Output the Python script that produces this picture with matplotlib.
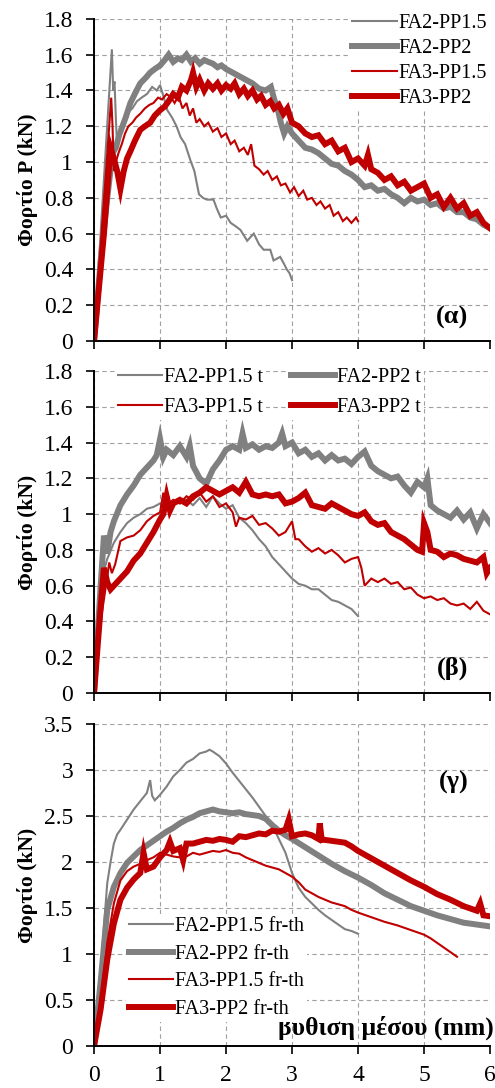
import matplotlib
matplotlib.use("Agg")
import matplotlib.pyplot as plt

plt.rcParams['font.family'] = ['Liberation Serif', 'DejaVu Serif']

GRAY = '#808080'
RED = '#c00000'

# ---- (α) ----
a_fa2_pp15_x = [0, 0.27, 0.29, 0.31, 0.33, 0.35, 0.38, 0.42, 0.47, 0.52, 0.58, 0.65, 0.72, 0.8, 0.88, 0.95,
                1.0, 1.05, 1.11, 1.18, 1.25, 1.31, 1.38, 1.46, 1.52, 1.59, 1.65, 1.71, 1.81, 1.86, 1.92, 2.0,
                2.07, 2.15, 2.22, 2.32, 2.42, 2.5, 2.57, 2.67, 2.72, 2.82, 2.88, 2.92, 2.96, 3.0]
a_fa2_pp15_y = [0, 1.63, 1.40, 1.45, 1.25, 1.08, 1.12, 1.2, 1.24, 1.28, 1.3, 1.34, 1.36, 1.38, 1.42, 1.40,
                1.43, 1.37, 1.29, 1.25, 1.20, 1.14, 1.10, 1.01, 0.95, 0.82, 0.80, 0.79, 0.79, 0.74, 0.69, 0.70,
                0.66, 0.64, 0.62, 0.56, 0.60, 0.54, 0.51, 0.51, 0.45, 0.47, 0.43, 0.40, 0.38, 0.34]

a_fa2_pp2_x = [0, 0.1, 0.2, 0.28, 0.33, 0.38, 0.43, 0.48, 0.55, 0.63, 0.7, 0.78, 0.85, 0.92, 1.0, 1.07, 1.13,
               1.2, 1.27, 1.33, 1.4, 1.47, 1.53, 1.6, 1.67, 1.73, 1.8, 1.87, 1.93, 2.0, 2.1, 2.2, 2.3, 2.4,
               2.5, 2.6, 2.68, 2.73, 2.78, 2.83, 2.88, 2.93, 3.0, 3.1, 3.2, 3.3, 3.4, 3.5, 3.6, 3.7, 3.8,
               3.9, 4.0, 4.1, 4.2, 4.3, 4.4, 4.5, 4.6, 4.7, 4.8, 4.9, 5.0, 5.1, 5.2, 5.3, 5.4, 5.5, 5.6,
               5.7, 5.8, 5.9, 6.0]
a_fa2_pp2_y = [0, 0.45, 0.8, 1.05, 1.08, 1.15, 1.2, 1.25, 1.33, 1.39, 1.44, 1.47, 1.5, 1.52, 1.54, 1.57, 1.6,
               1.56, 1.58, 1.57, 1.6, 1.56, 1.58, 1.55, 1.57, 1.56, 1.55, 1.53, 1.54, 1.52, 1.50, 1.48, 1.46,
               1.44, 1.41, 1.40, 1.42, 1.35, 1.30, 1.22, 1.16, 1.20, 1.16, 1.12, 1.08, 1.07, 1.05, 1.02, 0.99,
               0.98, 0.95, 0.93, 0.90, 0.86, 0.87, 0.84, 0.85, 0.82, 0.80, 0.77, 0.80, 0.78, 0.79, 0.76, 0.77,
               0.74, 0.75, 0.72, 0.72, 0.69, 0.68, 0.65, 0.63]

a_fa3_pp15_x = [0, 0.26, 0.28, 0.3, 0.33, 0.37, 0.42, 0.47, 0.52, 0.58, 0.64, 0.7, 0.77, 0.84, 0.9, 0.97, 1.03,
                1.1, 1.17, 1.22, 1.28, 1.34, 1.4, 1.45, 1.5, 1.55, 1.6, 1.67, 1.73, 1.8, 1.87, 1.93, 2.0, 2.07,
                2.13, 2.2, 2.27, 2.33, 2.38, 2.43, 2.5, 2.57, 2.63, 2.7, 2.77, 2.83, 2.9, 2.97, 3.03, 3.1,
                3.17, 3.23, 3.3, 3.37, 3.43, 3.5, 3.57, 3.63, 3.7, 3.77, 3.83, 3.9, 3.97, 4.0]
a_fa3_pp15_y = [0, 1.36, 1.2, 0.95, 1.0, 1.05, 1.1, 1.16, 1.2, 1.22, 1.25, 1.27, 1.3, 1.32, 1.33, 1.36, 1.35,
                1.38, 1.36, 1.33, 1.37, 1.30, 1.33, 1.26, 1.30, 1.22, 1.24, 1.20, 1.22, 1.17, 1.19, 1.14, 1.16,
                1.10, 1.12, 1.06, 1.08, 1.04, 1.10, 0.98, 0.96, 0.93, 0.95, 0.90, 0.92, 0.87, 0.88, 0.83, 0.86,
                0.81, 0.84, 0.79, 0.80, 0.76, 0.78, 0.74, 0.76, 0.70, 0.72, 0.67, 0.69, 0.66, 0.69, 0.67]

a_fa3_pp2_x = [0, 0.15, 0.25, 0.3, 0.35, 0.4, 0.45, 0.5, 0.55, 0.62, 0.7, 0.77, 0.85, 0.92, 1.0, 1.07, 1.13,
               1.2, 1.27, 1.33, 1.4, 1.47, 1.5, 1.55, 1.6, 1.67, 1.73, 1.8, 1.87, 1.93, 2.0, 2.07, 2.13, 2.2,
               2.27, 2.33, 2.4, 2.47, 2.53, 2.6, 2.67, 2.73, 2.8, 2.87, 2.93, 3.0, 3.1, 3.2, 3.3, 3.4, 3.5,
               3.6, 3.7, 3.8, 3.9, 4.0, 4.1, 4.15, 4.2, 4.3, 4.4, 4.5, 4.6, 4.7, 4.8, 4.9, 5.0, 5.1, 5.2,
               5.3, 5.4, 5.5, 5.6, 5.7, 5.8, 5.9, 6.0]
a_fa3_pp2_y = [0, 0.6, 1.08, 1.02, 0.95, 0.85, 0.95, 1.02, 1.06, 1.12, 1.18, 1.2, 1.22, 1.26, 1.29, 1.31, 1.34,
               1.38, 1.36, 1.42, 1.40, 1.46, 1.50, 1.42, 1.46, 1.40, 1.44, 1.41, 1.44, 1.40, 1.43, 1.41, 1.44,
               1.38, 1.41, 1.37, 1.40, 1.35, 1.37, 1.32, 1.34, 1.30, 1.32, 1.27, 1.30, 1.22, 1.20, 1.16, 1.14,
               1.15, 1.10, 1.12, 1.06, 1.08, 1.0, 1.02, 0.98, 1.04, 0.96, 0.94, 0.90, 0.92, 0.87, 0.89, 0.84,
               0.86, 0.88, 0.80, 0.82, 0.75, 0.80, 0.74, 0.77, 0.70, 0.72, 0.66, 0.63]

# ---- (β) ----
b_fa2_pp15_x = [0, 0.1, 0.2, 0.3, 0.4, 0.5, 0.6, 0.7, 0.8, 0.9, 1.0, 1.1, 1.2, 1.3, 1.4, 1.5, 1.6, 1.7, 1.8,
                1.9, 2.0, 2.1, 2.2, 2.3, 2.4, 2.5, 2.6, 2.7, 2.8, 2.9, 3.0, 3.1, 3.2, 3.3, 3.4, 3.5, 3.6, 3.7,
                3.8, 3.9, 4.0]
b_fa2_pp15_y = [0, 0.62, 0.75, 0.84, 0.9, 0.95, 0.98, 1.0, 1.03, 1.04, 1.06, 1.05, 1.07, 1.06, 1.08, 1.05,
                1.09, 1.04, 1.1, 1.06, 1.03, 1.05, 0.98, 0.95, 0.91, 0.86, 0.82, 0.76, 0.72, 0.68, 0.64, 0.61,
                0.60, 0.58, 0.58, 0.55, 0.52, 0.51, 0.49, 0.47, 0.43]

b_fa2_pp2_x = [0, 0.1, 0.15, 0.2, 0.25, 0.3, 0.4, 0.5, 0.6, 0.7, 0.8, 0.9, 0.95, 1.0, 1.05, 1.1, 1.2, 1.3, 1.4,
               1.45, 1.5, 1.6, 1.7, 1.8, 1.9, 2.0, 2.1, 2.2, 2.25, 2.3, 2.4, 2.5, 2.6, 2.7, 2.8, 2.85, 2.9,
               3.0, 3.1, 3.2, 3.3, 3.4, 3.5, 3.6, 3.7, 3.8, 3.9, 4.0, 4.1, 4.2, 4.3, 4.4, 4.5, 4.6, 4.7, 4.8,
               4.9, 5.0, 5.05, 5.1, 5.2, 5.3, 5.4, 5.5, 5.6, 5.7, 5.8, 5.9, 6.0]
b_fa2_pp2_y = [0, 0.6, 0.88, 0.78, 0.9, 0.96, 1.05, 1.11, 1.16, 1.22, 1.26, 1.3, 1.33, 1.42, 1.32, 1.36, 1.33,
               1.38, 1.32, 1.38, 1.27, 1.2, 1.17, 1.25, 1.3, 1.36, 1.38, 1.36, 1.45, 1.37, 1.39, 1.36, 1.38,
               1.37, 1.40, 1.45, 1.38, 1.40, 1.34, 1.36, 1.32, 1.34, 1.30, 1.33, 1.30, 1.31, 1.28, 1.32, 1.35,
               1.27, 1.24, 1.22, 1.2, 1.21, 1.16, 1.12, 1.18, 1.15, 1.2, 1.05, 1.02, 1.0, 0.98, 1.02, 0.97,
               1.01, 0.92, 1.0, 0.95]

b_fa3_pp15_x = [0, 0.12, 0.2, 0.23, 0.27, 0.32, 0.4, 0.5, 0.6, 0.7, 0.8, 0.9, 1.0, 1.05, 1.1, 1.2, 1.3, 1.4,
                1.5, 1.6, 1.7, 1.8, 1.9, 2.0, 2.1, 2.15, 2.2, 2.3, 2.4, 2.5, 2.6, 2.7, 2.8, 2.9, 3.0, 3.05,
                3.1, 3.2, 3.3, 3.4, 3.5, 3.6, 3.7, 3.8, 3.9, 4.0, 4.05, 4.1, 4.2, 4.3, 4.4, 4.5, 4.6, 4.7,
                4.8, 4.9, 5.0, 5.1, 5.2, 5.3, 5.4, 5.5, 5.6, 5.7, 5.8, 5.9, 6.0]
b_fa3_pp15_y = [0, 0.45, 0.65, 0.73, 0.67, 0.72, 0.85, 0.87, 0.88, 0.91, 0.96, 0.99, 1.01, 1.12, 1.05, 1.08,
                1.06, 1.1, 1.08, 1.12, 1.07, 1.1, 1.04, 1.06, 1.01, 0.93, 0.98, 0.97, 0.99, 0.94, 0.95, 0.92,
                0.88, 0.9, 0.96, 0.86, 0.86, 0.82, 0.79, 0.81, 0.78, 0.80, 0.77, 0.73, 0.75, 0.76, 0.70, 0.60,
                0.64, 0.62, 0.64, 0.61, 0.62, 0.58, 0.59, 0.55, 0.53, 0.54, 0.52, 0.53, 0.50, 0.49, 0.50, 0.47,
                0.51, 0.46, 0.44]

b_fa3_pp2_x = [0, 0.1, 0.15, 0.2, 0.25, 0.3, 0.4, 0.5, 0.6, 0.7, 0.8, 0.9, 1.0, 1.05, 1.1, 1.15, 1.2, 1.3,
               1.4, 1.5, 1.6, 1.7, 1.8, 1.9, 2.0, 2.1, 2.2, 2.3, 2.4, 2.5, 2.6, 2.7, 2.8, 2.9, 3.0, 3.1, 3.2,
               3.3, 3.4, 3.5, 3.6, 3.7, 3.8, 3.9, 4.0, 4.1, 4.2, 4.3, 4.4, 4.5, 4.6, 4.7, 4.8, 4.9, 4.97,
               5.0, 5.05, 5.1, 5.2, 5.3, 5.4, 5.5, 5.6, 5.7, 5.8, 5.9, 5.95, 6.0]
b_fa3_pp2_y = [0, 0.48, 0.7, 0.62, 0.58, 0.6, 0.64, 0.68, 0.74, 0.78, 0.84, 0.9, 0.97, 1.0, 1.1, 1.02, 1.06,
               1.08, 1.06, 1.1, 1.12, 1.15, 1.13, 1.11, 1.13, 1.15, 1.12, 1.18, 1.11, 1.1, 1.11, 1.10, 1.11,
               1.06, 1.07, 1.09, 1.12, 1.05, 1.04, 1.03, 1.06, 1.04, 1.02, 1.0, 0.99, 1.01, 0.96, 0.94, 0.95,
               0.90, 0.88, 0.86, 0.83, 0.80, 0.79, 0.95, 0.90, 0.80, 0.79, 0.76, 0.78, 0.77, 0.75, 0.74, 0.73,
               0.76, 0.67, 0.70]

# ---- (γ) ----
c_fa2_pp15_x = [0, 0.1, 0.15, 0.2, 0.25, 0.3, 0.35, 0.4, 0.5, 0.6, 0.7, 0.8, 0.85, 0.88, 0.92, 1.0, 1.1, 1.2,
                1.3, 1.4, 1.5, 1.6, 1.7, 1.75, 1.8, 1.9, 2.0, 2.1, 2.2, 2.3, 2.4, 2.5, 2.6, 2.7, 2.8, 2.9,
                3.0, 3.1, 3.2, 3.3, 3.4, 3.5, 3.6, 3.7, 3.8, 3.9, 4.0]
c_fa2_pp15_y = [0, 0.75, 1.3, 1.77, 2.0, 2.2, 2.3, 2.35, 2.46, 2.57, 2.66, 2.75, 2.89, 2.72, 2.67, 2.73, 2.82,
                2.93, 3.0, 3.08, 3.12, 3.18, 3.2, 3.22, 3.2, 3.15, 3.07, 2.97, 2.88, 2.79, 2.70, 2.60, 2.50,
                2.40, 2.25, 2.10, 1.88, 1.72, 1.62, 1.55, 1.48, 1.42, 1.37, 1.32, 1.27, 1.25, 1.22]

c_fa2_pp2_x = [0, 0.1, 0.2, 0.3, 0.4, 0.5, 0.6, 0.7, 0.8, 0.9, 1.0, 1.1, 1.2, 1.3, 1.4, 1.5, 1.6, 1.7, 1.8,
               1.9, 2.0, 2.1, 2.2, 2.3, 2.4, 2.5, 2.6, 2.7, 2.8, 2.9, 3.0, 3.2, 3.4, 3.6, 3.8, 4.0, 4.2, 4.4,
               4.6, 4.8, 5.0, 5.2, 5.4, 5.6, 5.8, 6.0]
c_fa2_pp2_y = [0, 0.7, 1.48, 1.73, 1.88, 1.99, 2.06, 2.13, 2.18, 2.23, 2.28, 2.33, 2.37, 2.42, 2.46, 2.49,
               2.53, 2.55, 2.57, 2.55, 2.54, 2.53, 2.54, 2.52, 2.51, 2.50, 2.47, 2.40, 2.34, 2.29, 2.25, 2.16,
               2.07, 1.98, 1.90, 1.83, 1.75, 1.66, 1.59, 1.52, 1.47, 1.42, 1.38, 1.34, 1.32, 1.30]

c_fa3_pp15_x = [0, 0.1, 0.2, 0.3, 0.4, 0.5, 0.6, 0.7, 0.8, 0.9, 1.0, 1.1, 1.2, 1.3, 1.4, 1.5, 1.6, 1.7, 1.8,
                1.9, 2.0, 2.1, 2.2, 2.3, 2.4, 2.5, 2.6, 2.7, 2.8, 2.9, 3.0, 3.1, 3.2, 3.3, 3.4, 3.5, 3.6, 3.7,
                3.8, 3.9, 4.0, 4.2, 4.4, 4.6, 4.8, 5.0, 5.1, 5.2, 5.3, 5.4, 5.5]
c_fa3_pp15_y = [0, 0.5, 1.12, 1.55, 1.8, 1.9, 1.95, 1.98, 2.02, 2.05, 2.1, 2.08, 2.06, 2.05, 2.06, 2.1, 2.08,
                2.1, 2.12, 2.11, 2.13, 2.1, 2.09, 2.05, 2.02, 1.99, 1.96, 1.94, 1.92, 1.88, 1.84, 1.78, 1.7,
                1.66, 1.62, 1.59, 1.56, 1.54, 1.52, 1.48, 1.45, 1.40, 1.35, 1.31, 1.26, 1.21, 1.17, 1.12,
                1.07, 1.02, 0.97]

c_fa3_pp2_x = [0, 0.1, 0.2, 0.3, 0.4, 0.5, 0.6, 0.7, 0.75, 0.8, 0.9, 1.0, 1.1, 1.15, 1.2, 1.3, 1.35, 1.4, 1.5,
               1.6, 1.7, 1.8, 1.9, 2.0, 2.1, 2.2, 2.3, 2.4, 2.5, 2.6, 2.7, 2.8, 2.9, 2.95, 3.0, 3.1, 3.2, 3.3,
               3.4, 3.42, 3.45, 3.5, 3.6, 3.7, 3.8, 3.9, 4.0, 4.2, 4.4, 4.6, 4.8, 5.0, 5.2, 5.4, 5.6, 5.8,
               5.85, 5.9, 6.0]
c_fa3_pp2_y = [0, 0.4, 0.94, 1.33, 1.59, 1.72, 1.81, 1.88, 2.1, 1.92, 1.95, 2.05, 2.13, 2.22, 2.12, 2.15, 2.02,
               2.2, 2.2, 2.22, 2.24, 2.23, 2.25, 2.24, 2.22, 2.28, 2.27, 2.29, 2.31, 2.30, 2.34, 2.33, 2.35,
               2.46, 2.28, 2.30, 2.31, 2.29, 2.25, 2.42, 2.24, 2.24, 2.23, 2.22, 2.21, 2.17, 2.12, 2.04, 1.96,
               1.88, 1.80, 1.73, 1.65, 1.59, 1.52, 1.47, 1.55, 1.42, 1.41]

x_ticks = [0, 1, 2, 3, 4, 5, 6]
y_ticks_ab = [0, 0.2, 0.4, 0.6, 0.8, 1, 1.2, 1.4, 1.6, 1.8]
y_ticks_c = [0, 0.5, 1, 1.5, 2, 2.5, 3, 3.5]

fig = plt.figure(figsize=(4.95, 10.88), dpi=100)
left, width, height = 0.19, 0.80, 0.296
axes = [fig.add_axes([left, b, width, height]) for b in (0.6866, 0.363, 0.0386)]

LEG = dict(fontsize=14.5, frameon=True, facecolor='white', edgecolor='none', framealpha=1,
           handlelength=2.2, handletextpad=0.1, borderpad=0.15, borderaxespad=0)


def style(ax, yticks, xlabels):
    ax.set_xlim(0, 6)
    ax.set_ylim(yticks[0], yticks[-1])
    ax.set_xticks(x_ticks)
    ax.set_yticks(yticks)
    ax.set_yticklabels([f'{v:g}' for v in yticks])
    if xlabels:
        ax.set_xticklabels([str(v) for v in x_ticks])
    else:
        ax.set_xticklabels([])
    ax.grid(True, ls=(0, (4, 3)), color='#a0a0a0', lw=0.8)
    for s in ('top', 'right'):
        ax.spines[s].set_visible(False)
    for s in ('left', 'bottom'):
        ax.spines[s].set_linewidth(1.4)
    ax.tick_params(direction='out', length=6, width=1.2, labelsize=17)
    ax.tick_params(axis='y', pad=9)
    ax.tick_params(axis='x', pad=8)


def draw(ax, series, labels):
    lines = []
    for (x, y), lab, col, lw in zip(series, labels, [GRAY, GRAY, RED, RED], [1.5, 4.3, 1.5, 4.3]):
        ln, = ax.plot(x, y, color=col, lw=lw, label=lab, solid_joinstyle='miter')
        lines.append(ln)
    return lines


ax = axes[0]
draw(ax, [(a_fa2_pp15_x, a_fa2_pp15_y), (a_fa2_pp2_x, a_fa2_pp2_y),
          (a_fa3_pp15_x, a_fa3_pp15_y), (a_fa3_pp2_x, a_fa3_pp2_y)],
     ['FA2-PP1.5', 'FA2-PP2', 'FA3-PP1.5', 'FA3-PP2'])
style(ax, y_ticks_ab, False)
ax.set_ylabel('Φορτίο P (kN)', fontsize=15.5, fontweight='bold', labelpad=4)
ax.legend(loc='upper right', bbox_to_anchor=(1.0, 1.025), labelspacing=0.3, **LEG)
ax.text(5.43, 0.13, '(α)', fontsize=19, fontweight='bold', ha='center', va='center')

ax = axes[1]
h = draw(ax, [(b_fa2_pp15_x, b_fa2_pp15_y), (b_fa2_pp2_x, b_fa2_pp2_y),
              (b_fa3_pp15_x, b_fa3_pp15_y), (b_fa3_pp2_x, b_fa3_pp2_y)],
         ['FA2-PP1.5 t', 'FA2-PP2 t', 'FA3-PP1.5 t', 'FA3-PP2 t'])
style(ax, y_ticks_ab, False)
ax.set_ylabel('Φορτίο (kN)', fontsize=15.5, fontweight='bold', labelpad=4)
leg1 = ax.legend(handles=[h[0], h[2]], loc='upper left', bbox_to_anchor=(0.053, 1.02),
                 labelspacing=0.55, **LEG)
ax.add_artist(leg1)
ax.legend(handles=[h[1], h[3]], loc='upper left', bbox_to_anchor=(0.49, 1.02),
          labelspacing=0.55, **LEG)
ax.text(5.43, 0.14, '(β)', fontsize=19, fontweight='bold', ha='center', va='center')

ax = axes[2]
draw(ax, [(c_fa2_pp15_x, c_fa2_pp15_y), (c_fa2_pp2_x, c_fa2_pp2_y),
          (c_fa3_pp15_x, c_fa3_pp15_y), (c_fa3_pp2_x, c_fa3_pp2_y)],
     ['FA2-PP1.5 fr-th', 'FA2-PP2 fr-th', 'FA3-PP1.5 fr-th', 'FA3-PP2 fr-th'])
style(ax, y_ticks_c, True)
ax.set_ylabel('Φορτίο (kN)', fontsize=15.5, fontweight='bold', labelpad=4)
ax.legend(loc='upper left', bbox_to_anchor=(0.08, 0.41), labelspacing=0.42, **LEG)
ax.text(5.45, 2.86, '(γ)', fontsize=19, fontweight='bold', ha='center', va='center')
ax.text(6.06, 0.2, 'βύθιση μέσου (mm)', fontsize=18.5, fontweight='bold', ha='right', va='center')

fig.savefig('out.png', dpi=100)
